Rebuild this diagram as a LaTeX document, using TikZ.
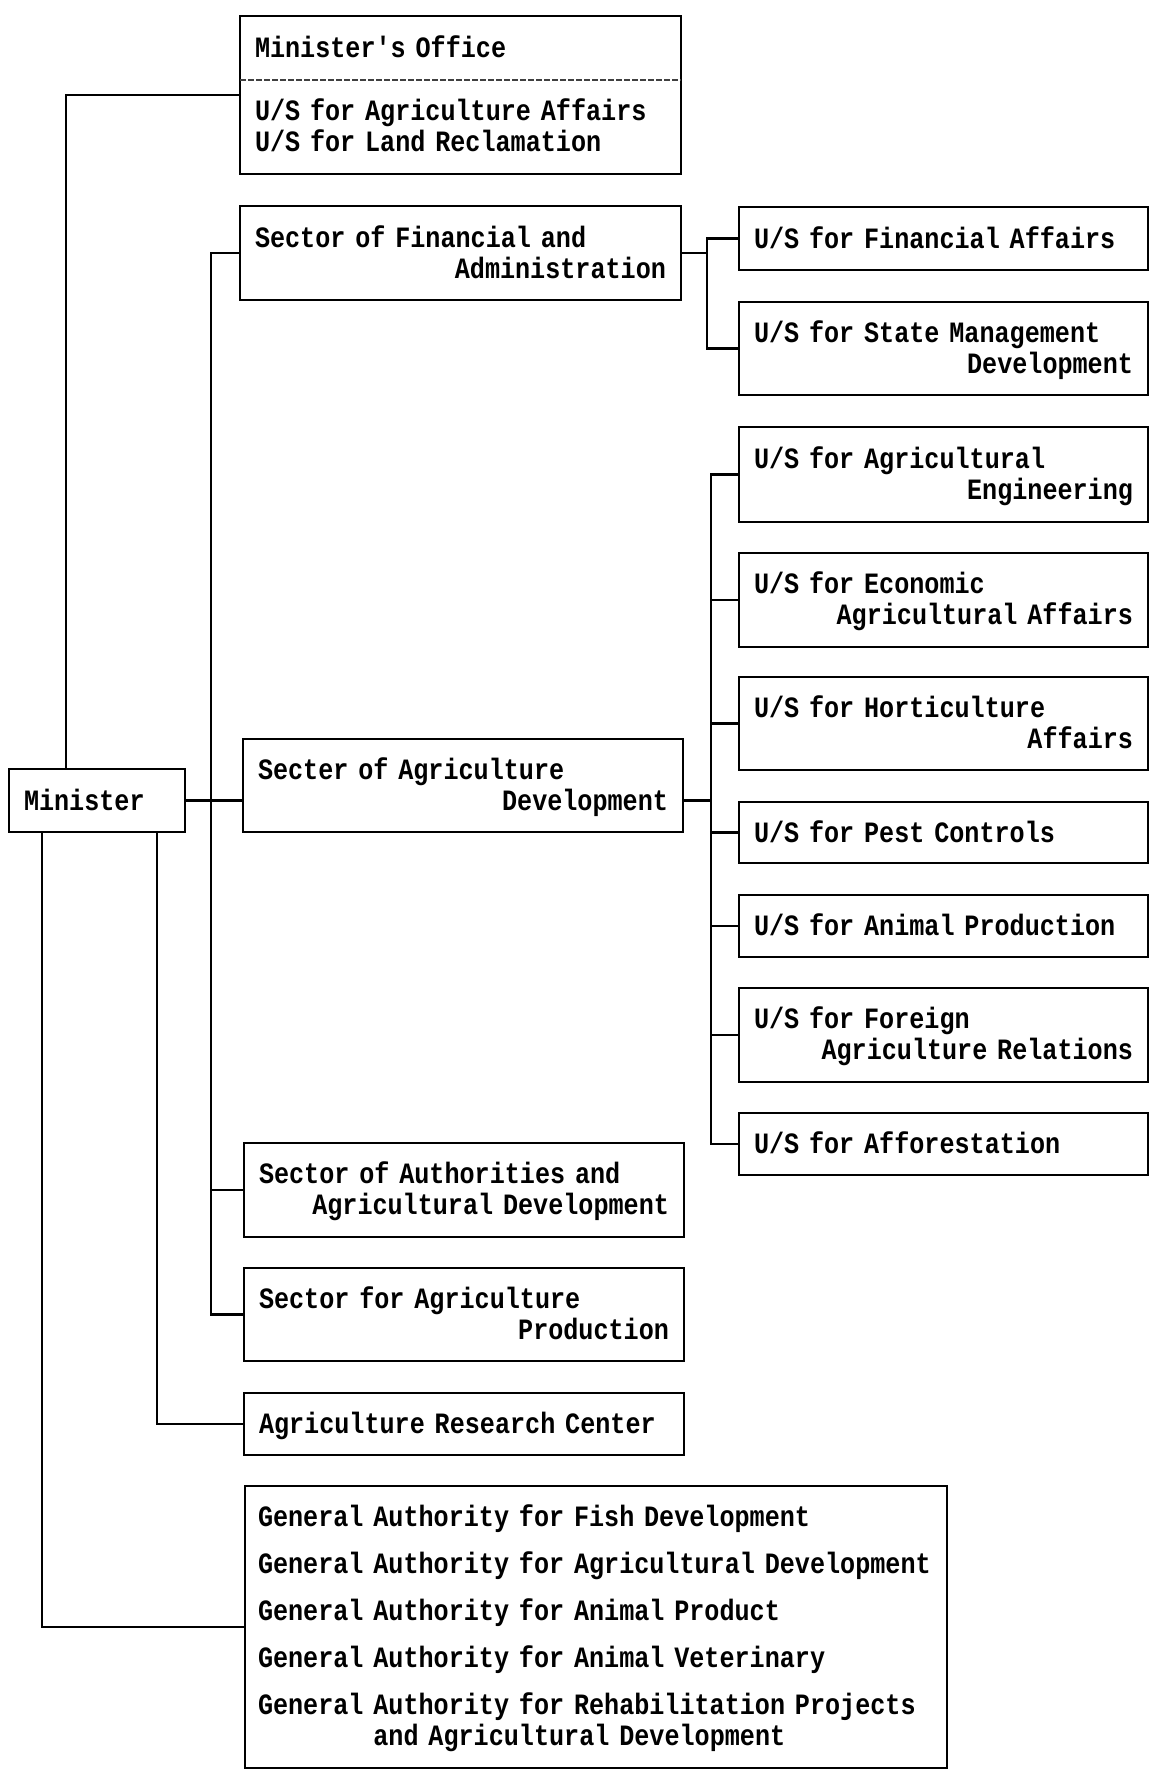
\documentclass[tikz,border=0pt]{standalone}
\usepackage{fontspec}
\newfontfamily\chartfont{Liberation Mono}[FakeStretch=0.852,Ligatures=TeXOff]
\newcommand{\chartsize}{\chartfont\bfseries\fontsize{29.5}{31}\selectfont\lineskiplimit=-20pt\relax}
\newcommand{\chartstrut}{\rule[-6pt]{0pt}{31pt}}
\newcommand{\rfill}{\hspace*{\fill}}

\begin{document}
\begin{tikzpicture}[x=1pt, y=-1pt,
  unit/.style={draw, line width=2.7pt, anchor=north west, align=left,
    inner xsep=15pt, inner ysep=0pt, outer sep=0pt, font=\chartsize,
    execute at begin node=\chartstrut, execute at end node=\chartstrut},
  link/.style={line width=2.4pt},
  sepline/.style={line width=1.3pt, black!75, dash pattern=on 6pt off 2pt}]
\useasboundingbox (0,0) rectangle (1150,1780);
% left column
\node[unit, text width=146pt, minimum height=63pt] (minister) at (9,769) {Minister};
\node[unit, text width=411pt, minimum height=158pt] (office) at (240,16) {Minister's Office\\[32pt]U/S for Agriculture Affairs\\U/S for Land Reclamation};
\draw[sepline] (office.west |- 0,80) -- (office.east |- 0,80);
\node[unit, text width=411pt, minimum height=94pt] (finsec) at (240,206) {Sector of Financial and\\\rfill Administration};
\node[unit, text width=410pt, minimum height=93pt] (agrsec) at (243,739) {Secter of Agriculture\\\rfill Development};
\node[unit, text width=410pt, minimum height=94pt] (authsec) at (244,1143) {Sector of Authorities and\\\rfill Agricultural Development};
\node[unit, text width=410pt, minimum height=93pt] (prodsec) at (244,1268) {Sector for Agriculture\\\rfill Production};
\node[unit, text width=410pt, minimum height=62pt] (arc) at (244,1393) {Agriculture Research Center};
\node[unit, text width=676pt, inner xsep=13pt, minimum height=282pt] (genauth) at (245,1486) {General Authority for Fish Development\\[16pt]General Authority for Agricultural Development\\[16pt]General Authority for Animal Product\\[16pt]General Authority for Animal Veterinary\\[16pt]General Authority for Rehabilitation Projects\\\phantom{General}\ and Agricultural Development};
% right column
\node[unit, text width=379pt, minimum height=63pt] (usfin) at (739,207) {U/S for Financial Affairs};
\node[unit, text width=379pt, minimum height=93pt] (usstate) at (739,302) {U/S for State Management\\\rfill Development};
\node[unit, text width=379pt, minimum height=95pt] (useng) at (739,427) {U/S for Agricultural\\\rfill Engineering};
\node[unit, text width=379pt, minimum height=94pt] (useco) at (739,553) {U/S for Economic\\\rfill Agricultural Affairs};
\node[unit, text width=379pt, minimum height=93pt] (ushort) at (739,677) {U/S for Horticulture\\\rfill Affairs};
\node[unit, text width=379pt, minimum height=61pt] (uspest) at (739,802) {U/S for Pest Controls};
\node[unit, text width=379pt, minimum height=62pt] (usanim) at (739,895) {U/S for Animal Production};
\node[unit, text width=379pt, minimum height=94pt] (usfor) at (739,988) {U/S for Foreign\\\rfill Agriculture Relations};
\node[unit, text width=379pt, minimum height=62pt] (usaff) at (739,1113) {U/S for Afforestation};
% buses
\coordinate (ofbus) at (66,769);
\coordinate (secbus) at (211,800);
\coordinate (arcbus) at (157,832);
\coordinate (genbus) at (42,832);
\coordinate (finbus) at (707,300);
\coordinate (agrbus) at (711,800);
\draw[link] (ofbus) |- (office.west);
\draw[link] (finsec.west) -| (secbus) |- (prodsec.west);
\draw[link] (secbus |- authsec.west) -- (authsec.west);
\draw[link] (minister.east) -- (minister.east -| agrsec.west);
\draw[link] (arcbus) |- (arc.west);
\draw[link] (genbus) |- (genauth.west);
\draw[link] (finsec.east) -- (finsec.east -| finbus);
\draw[link] (usfin.west) -| (finbus) |- (usstate.west);
\draw[link] (agrsec.east |- minister.east) -- (agrbus |- minister.east);
\draw[link] (useng.west) -| (agrbus) |- (usaff.west);
\foreach \n in {useco,ushort,uspest,usanim,usfor}
  \draw[link] (agrbus |- \n.west) -- (\n.west);
\end{tikzpicture}
\end{document}
